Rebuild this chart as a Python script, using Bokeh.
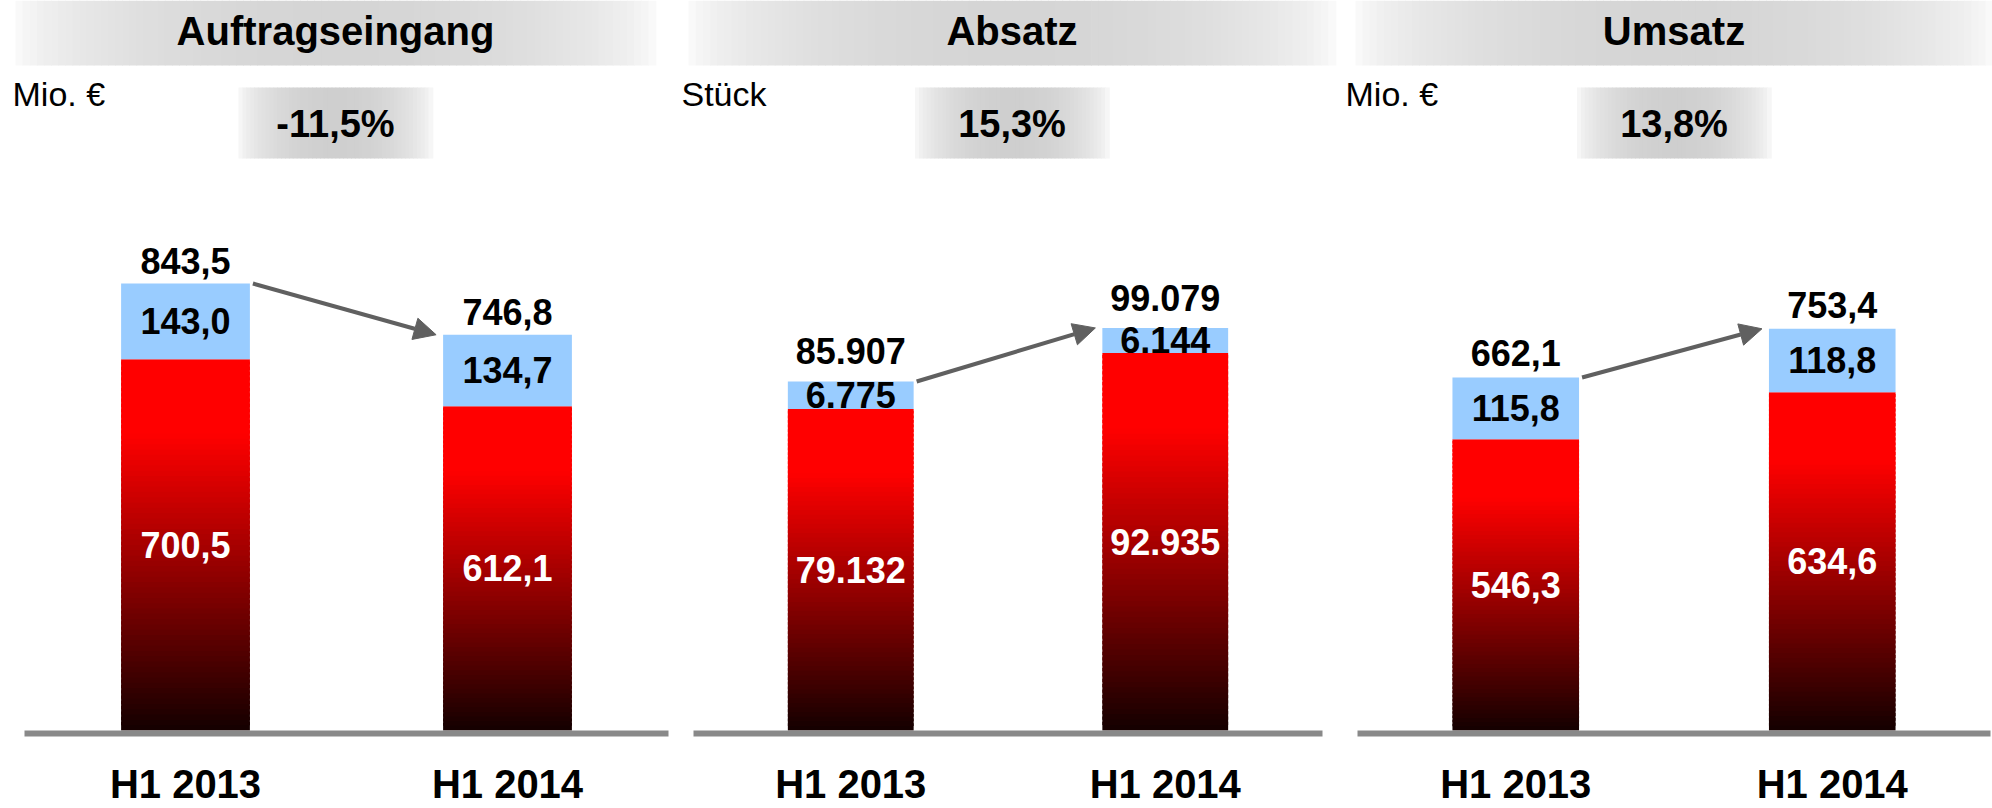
import math
from bokeh.plotting import figure
from bokeh.models import Range1d, Arrow, NormalHead
from bokeh.core.properties import value
from bokeh.embed import file_html
from bokeh.resources import INLINE

# ---------------- data ----------------
titles = ["Auftragseingang", "Absatz", "Umsatz"]
units = ["Mio. €", "Stück", "Mio. €"]
changes = ["-11,5%", "15,3%", "13,8%"]
periods = ["H1 2013", "H1 2014"]
red_vals = [[700.5, 612.1], [79132, 92935], [546.3, 634.6]]
blue_vals = [[143.0, 134.7], [6775, 6144], [115.8, 118.8]]
decimals = [1, 0, 1]

# ---------------- layout / style ----------------
FONT = "Liberation Sans"
W, H = 1992, 808
ZERO = 730           # pixel row of the value 0 (top of the base line)
panel_left = [24, 693, 1357]
panel_right = [668, 1322, 1990]
y_end = [1377.6, 179670.0, 1369.1]   # value at the top edge of the page, per panel
band_span = [(15, 655), (688, 1335), (1355, 1992)]
box_half = 97
top_off = [-23, -30, -24]
BLUE = "#99ccff"
GREY_AXIS = "#898989"
ARROW = "#606060"


def fmt(v, d):
    if d == 0:
        return f"{v:,.0f}".replace(",", ".")
    return f"{v:.{d}f}".replace(".", ",")


def hexg(g):
    g = max(0, min(255, int(round(g))))
    return "#%02x%02x%02x" % (g, g, g)


p = figure(width=W, height=H, x_range=Range1d(0, W), y_range=Range1d(H, 0),
           x_axis_type=None, y_axis_type=None, toolbar_location=None,
           output_backend="svg", min_border=0, outline_line_color=None,
           background_fill_color="white", border_fill_color="white")

# gradient bands (title and change boxes)
bl, br, bt, bb, bc = [], [], [], [], []


def add_hgrad(x0, x1, y0, y1, peak, n=90):
    for k in range(n):
        t = (k + 0.5) / n
        f = math.sin(math.pi * t) ** 0.5
        bl.append(x0 + (x1 - x0) * k / n)
        br.append(x0 + (x1 - x0) * (k + 1) / n + 0.8)
        bt.append(y0)
        bb.append(y1)
        bc.append(hexg(255 - peak * f))


for i in range(3):
    a, b = band_span[i]
    add_hgrad(a, b, 0, 65, 42)
    c = (a + b) / 2
    add_hgrad(c - box_half, c + box_half, 87, 158, 48, n=50)

p.quad(left=bl, right=br, top=bt, bottom=bb, fill_color=bc, line_color=None)

for i in range(3):
    a, b = band_span[i]
    c = (a + b) / 2
    p.text(x=[c], y=[30], text=[titles[i]], text_font=value(FONT), text_font_style="bold",
           text_font_size="40px", text_align="center", text_baseline="middle", text_color="black")
    p.text(x=[c], y=[123], text=[changes[i]], text_font=value(FONT), text_font_style="bold",
           text_font_size="38px", text_align="center", text_baseline="middle", text_color="black")
    p.text(x=[panel_left[i] - 12], y=[93], text=[units[i]], text_font=value(FONT),
           text_font_size="34px", text_align="left", text_baseline="middle", text_color="black")

# bars per panel
for i in range(3):
    rname = f"p{i}"
    p.extra_y_ranges[rname] = Range1d(start=-(H - ZERO) * y_end[i] / ZERO, end=y_end[i])
    half = (panel_right[i] - panel_left[i]) / 2
    xs = [panel_left[i] + (j + 0.5) * half for j in range(2)]
    bw = 0.4 * half
    reds = red_vals[i]
    blues = blue_vals[i]
    tots = [r + bv for r, bv in zip(reds, blues)]

    # red gradient strips
    sl, sr, st, sb, sc = [], [], [], [], []
    n = 70
    for j in range(2):
        v = reds[j]
        for k in range(n):
            t = 1 - (k + 0.5) / n  # 0 at top, 1 at bottom
            r = 255 if t < 0.2 else 255 - (t - 0.2) / 0.8 * 235
            sl.append(xs[j] - bw / 2)
            sr.append(xs[j] + bw / 2)
            sb.append(v * k / n)
            st.append(min(v, v * (k + 1.6) / n))
            sc.append("#%02x0000" % int(round(r)))
    p.quad(left=sl, right=sr, top=st, bottom=sb, fill_color=sc, line_color=None, y_range_name=rname)
    p.quad(left=[x - bw / 2 for x in xs], right=[x + bw / 2 for x in xs], bottom=reds, top=tots,
           fill_color=BLUE, line_color=None, y_range_name=rname)

    d = decimals[i]
    p.text(x=xs, y=[r / 2 for r in reds], text=[fmt(r, d) for r in reds], text_font=value(FONT),
           text_font_style="bold", text_font_size="36px", text_align="center", text_baseline="middle",
           text_color="white", y_range_name=rname)
    p.text(x=xs, y=[r + bv / 2 for r, bv in zip(reds, blues)], text=[fmt(bv, d) for bv in blues],
           text_font=value(FONT), text_font_style="bold", text_font_size="36px", text_align="center",
           text_baseline="middle", text_color="black", y_range_name=rname)
    p.text(x=xs, y=tots, text=[fmt(t, d) for t in tots], text_font=value(FONT), text_font_style="bold",
           text_font_size="36px", text_align="center", text_baseline="middle", text_color="black",
           y_offset=top_off[i], y_range_name=rname)

    # arrow
    p.add_layout(Arrow(end=NormalHead(size=22, fill_color=ARROW, line_color=ARROW),
                       x_start=xs[0] + bw / 2 + 3, y_start=tots[0],
                       x_end=xs[1] - bw / 2 - 7, y_end=tots[1],
                       line_color=ARROW, line_width=4, y_range_name=rname))

    # base line and category labels
    p.quad(left=[panel_left[i]], right=[panel_right[i]], top=[ZERO], bottom=[ZERO + 6],
           fill_color=GREY_AXIS, line_color=None)
    p.text(x=xs, y=[783, 783], text=periods, text_font=value(FONT), text_font_style="bold",
           text_font_size="40px", text_align="center", text_baseline="middle", text_color="black")

open("out.html", "w").write(file_html(p, INLINE))
